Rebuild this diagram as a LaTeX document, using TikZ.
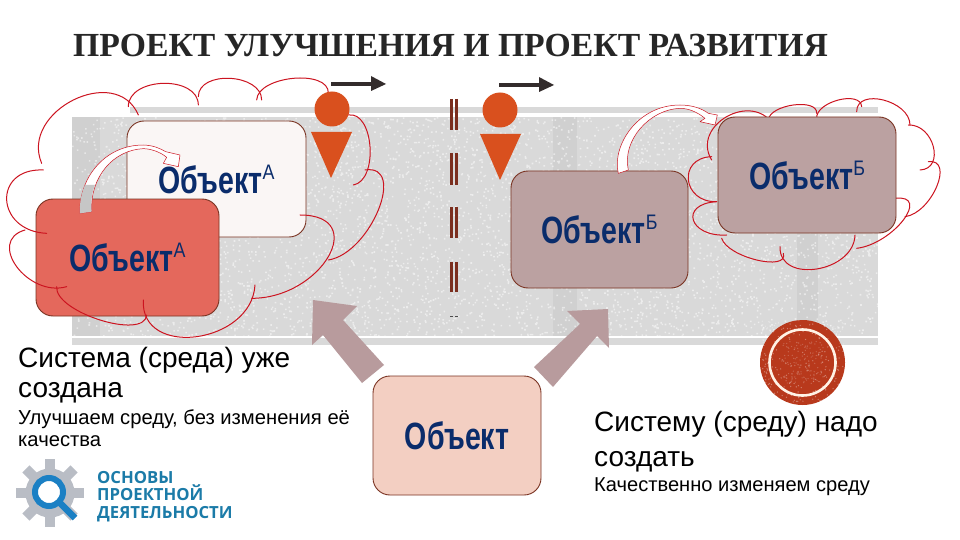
\documentclass[tikz,border=0pt]{standalone}
\usepackage{graphicx}
\usepackage{fontspec}
\setmainfont{Liberation Sans}
\newfontfamily\titlefont{Liberation Serif}
\newfontfamily\logofont{Open Sans}
\definecolor{navy}{HTML}{0A2C6B}
\definecolor{bgray}{HTML}{D0D0D0}
\definecolor{bcol}{HTML}{D9D9D9}
\definecolor{edge}{HTML}{7A3322}
\definecolor{cloudred}{HTML}{CC1420}
\definecolor{orangeP}{HTML}{D9501E}
\definecolor{mauve}{HTML}{B89B9D}
\definecolor{darkar}{HTML}{332C2C}
\definecolor{dashc}{HTML}{7B2E1E}
\definecolor{disc}{HTML}{B8391C}
\definecolor{logoblue}{HTML}{1B80C4}
\definecolor{logotext}{HTML}{1B7BA8}
\definecolor{gearc}{HTML}{B9BDC5}
\definecolor{boxwhite}{HTML}{FAF6F5}
\definecolor{boxred}{HTML}{E4685C}
\definecolor{boxbrown}{HTML}{BBA1A1}
\definecolor{boxpeach}{HTML}{F3CFC2}
\definecolor{titlec}{HTML}{262626}
\tikzset{
  objbox/.style={draw=edge,line width=0.9pt,rounded corners=17pt,inner sep=0pt},
  cloudline/.style={draw=cloudred,line width=1pt,line cap=round},
  body/.style={anchor=base west,inner sep=0pt,text=black},
  curly/.style={draw=cloudred,line width=0.5pt,fill=white,line join=round},
  walker/.style={fill=orangeP,draw=none},
  sign/.style={draw=dashc,line width=2.4pt},
  blockar/.style={fill=mauve,draw=none},
  darkarrow/.style={draw=darkar,line width=4pt},
  darkhead/.style={fill=darkar,draw=none},
  zoomL/.style={xshift=0pt,yshift=-70pt,x=0.33333pt,y=-0.33333pt},
  zoomR/.style={xshift=440pt,yshift=-70pt,x=0.33333pt,y=-0.33333pt},
}
\newcommand\objname{\fontsize{38}{38}\selectfont\bfseries\color{navy}\scalebox{.75}[1]{Объект}}
\newcommand\obj[1]{{\objname\raisebox{14pt}{\fontsize{21}{21}\selectfont\mdseries\scalebox{.85}[1]{#1}}}}
\newcommand\lobe[6]{%
  \pgfmathsetmacro\ox{4/3*(#3-(#1+#5)/2)}%
  \pgfmathsetmacro\oy{4/3*(#4-(#2+#6)/2)}%
  \draw[cloudline] (#1,#2) .. controls (#1+\ox,#2+\oy) and (#5+\ox,#6+\oy) .. (#5,#6);}
\begin{document}
\begin{tikzpicture}[x=1pt,y=-1pt]
\useasboundingbox (0,0) rectangle (960,540);
\fill[white] (0,0) rectangle (960,540);
% textured band
\fill[bcol] (72,117) rectangle (878,336);
\fill[bcol] (130,107) rectangle (878,113);
\fill[bcol] (72,338) rectangle (878,345);
\fill[bgray] (72,117) rectangle (100,336);
\fill[bgray] (553,117) rectangle (577,336);
\fill[bgray] (797,117) rectangle (818,336);
\pgfmathsetseed{7}
\fill[white,opacity=.5] \foreach \i in {1,...,5000}{
  (72+806*rnd,117+219*rnd) rectangle ++(1.6,1.6)};
% title
\node[anchor=base west,inner sep=0pt,text=titlec] (title) at (73,57)
  {\titlefont\fontsize{33.7}{33.7}\selectfont\bfseries ПРОЕКТ УЛУЧШЕНИЯ И ПРОЕКТ РАЗВИТИЯ};
% boxes
\node[objbox,fill=boxwhite,minimum width=179pt,minimum height=116pt] (wbox) at (216.5,179) {\obj{A}};
\node[objbox,fill=boxred,minimum width=183pt,minimum height=117pt] (rbox) at (127.5,257.5) {\obj{A}};
\node[objbox,fill=boxbrown,minimum width=177pt,minimum height=117pt] (bbox) at (599.5,229.5) {\obj{Б}};
% left cloud
\begin{scope}[zoomL]
\lobe{385}{110}{490}{40}{595}{105}
\lobe{595}{80}{690}{25}{785}{90}
\lobe{770}{90}{880}{25}{985}{70}
\lobe{1045}{135}{1110}{230}{1060}{345}
\lobe{1095}{300}{1135}{420}{985}{570}
\lobe{900}{435}{985}{560}{755}{685}
\lobe{765}{645}{590}{800}{430}{690}
\lobe{440}{735}{300}{750}{170}{650}
\lobe{200}{650}{50}{590}{75}{480}
\lobe{140}{490}{20}{390}{130}{300}
\lobe{125}{280}{220}{90}{415}{135}
% curved arrow, left
\path[curly] (240,430) .. controls (235,330) and (310,225) .. (430,225) .. controls (460,226) and (480,235) .. (497,245)
  -- (540,255) -- (535,290) -- (490,280) -- (500,262) .. controls (480,245) and (450,236) .. (430,236)
  .. controls (340,240) and (270,320) .. (275,425) -- cycle;
\fill[gray!45] (240,430) .. controls (238,395) and (245,370) .. (255,345) -- (285,345) .. controls (275,370) and (272,400) .. (275,425) -- cycle;
\end{scope}
% right cloud, behind its box
\begin{scope}[zoomR]
\lobe{985}{150}{1060}{105}{1130}{130}
\lobe{1130}{145}{1195}{90}{1265}{110}
\lobe{1250}{125}{1330}{90}{1410}{165}
\lobe{1405}{165}{1480}{230}{1440}{300}
\lobe{1465}{275}{1490}{350}{1395}{440}
\lobe{1365}{385}{1390}{450}{1250}{535}
\lobe{1245}{495}{1130}{597}{1020}{530}
\lobe{1030}{550}{950}{570}{845}{505}
\lobe{860}{495}{760}{450}{830}{395}
\lobe{830}{395}{745}{330}{815}{260}
\lobe{815}{270}{860}{140}{1000}{165}
\end{scope}
\node[objbox,fill=boxbrown,minimum width=178pt,minimum height=116pt] (bbox2) at (807,175) {\obj{Б}};
\begin{scope}[zoomR]
\path[curly] (535,310) .. controls (515,230) and (590,105) .. (720,105) .. controls (755,105) and (785,115) .. (805,130)
  -- (832,135) -- (825,165) -- (780,155) -- (795,145) .. controls (770,125) and (745,115) .. (720,115)
  .. controls (630,118) and (545,210) .. (565,300) -- cycle;
\end{scope}
% walkers
\node[circle,walker,minimum size=35pt,inner sep=0pt] (head1) at (332,109) {};
\fill[walker] (311,132) -- (352,132) -- (331,178) -- cycle;
\node[circle,walker,minimum size=35pt,inner sep=0pt] (head2) at (500,110) {};
\fill[walker] (480,134) -- (521,134) -- (500,180) -- cycle;
% direction arrows
\coordinate (a1s) at (331,84); \coordinate (a1e) at (372,84);
\draw[darkarrow] (a1s) -- (a1e);
\fill[darkhead] (371,76) -- (386,84) -- (371,91) -- cycle;
\coordinate (a2s) at (499,85); \coordinate (a2e) at (540,85);
\draw[darkarrow] (a2s) -- (a2e);
\fill[darkhead] (539,77) -- (554,85) -- (539,92) -- cycle;
% divider
\foreach \ya/\yb in {99/130,153/185,207/238,262/292}{
  \draw[sign] (451.5,\ya) -- (451.5,\yb);
  \draw[sign] (456.5,\ya) -- (456.5,\yb);
}
\draw[black!70,line width=.6pt] (450,316) -- (453,316) (455,316) -- (458,316);
% block arrows
\fill[blockar] (313,300) -- (357,306) -- (343,320) -- (384,365) -- (362,383) -- (323,335) -- (312,345) -- cycle;
\fill[blockar] (608,309) -- (567,311) -- (580,324) -- (534,367) -- (553,387) -- (597,336) -- (609,348) -- cycle;
\node[objbox,fill=boxpeach,minimum width=168pt,minimum height=119pt] (pbox) at (457,435.5) {\objname};
% disc
\fill[disc] (802.5,362.5) circle (42.5);
\pgfmathsetseed{11}
\fill[white,opacity=.35] \foreach \i in {1,...,260}{
  ({802.5+(36+6*rnd)*cos(360*rnd)},{362.5+(36+6*rnd)*sin(360*rnd)}) circle (.7)};
\draw[white!90!orange,line width=2.6pt] (802.5,362.5) circle (33);
\pgfmathsetseed{5}
\fill[white,opacity=.22] \foreach \i in {1,...,120}{
  (802.5+rand*21,362.5+rand*21) circle (.7)};
% body text
\node[body] (t1) at (18,367) {\fontsize{28}{28}\selectfont Система (среда) уже};
\node[body] (t2) at (18,397) {\fontsize{28}{28}\selectfont создана};
\node[body] (t3) at (18,424) {\fontsize{20.2}{20.2}\selectfont Улучшаем среду, без изменения её};
\node[body] (t4) at (18,446) {\fontsize{20.2}{20.2}\selectfont качества};
\node[body] (t5) at (594,431) {\fontsize{28}{28}\selectfont Систему (среду) надо};
\node[body] (t6) at (594,466) {\fontsize{28}{28}\selectfont создать};
\node[body] (t7) at (594,491) {\fontsize{20.1}{20.1}\selectfont Качественно изменяем среду};
% logo
\foreach \a in {0,45,...,315}{
  \fill[gearc,rotate around={\a:(50,493)}] (45,459) rectangle (55,480);
}
\draw[gearc,line width=9pt] (50,493) circle (20);
\fill[white] (49,492) circle (15);
\draw[logoblue,line width=6pt] (49,492) circle (14);
\draw[logoblue,line width=6.5pt] (60,503) -- (75,518);
\node[anchor=base west,inner sep=0pt,text=logotext] (l1) at (97,483) {\logofont\fontsize{16.7}{16.7}\selectfont\bfseries ОСНОВЫ};
\node[anchor=base west,inner sep=0pt,text=logotext] (l2) at (97,500) {\logofont\fontsize{16.7}{16.7}\selectfont\bfseries ПРОЕКТНОЙ};
\node[anchor=base west,inner sep=0pt,text=logotext] (l3) at (97,518) {\logofont\fontsize{16.7}{16.7}\selectfont\bfseries ДЕЯТЕЛЬНОСТИ};
\end{tikzpicture}
\end{document}
